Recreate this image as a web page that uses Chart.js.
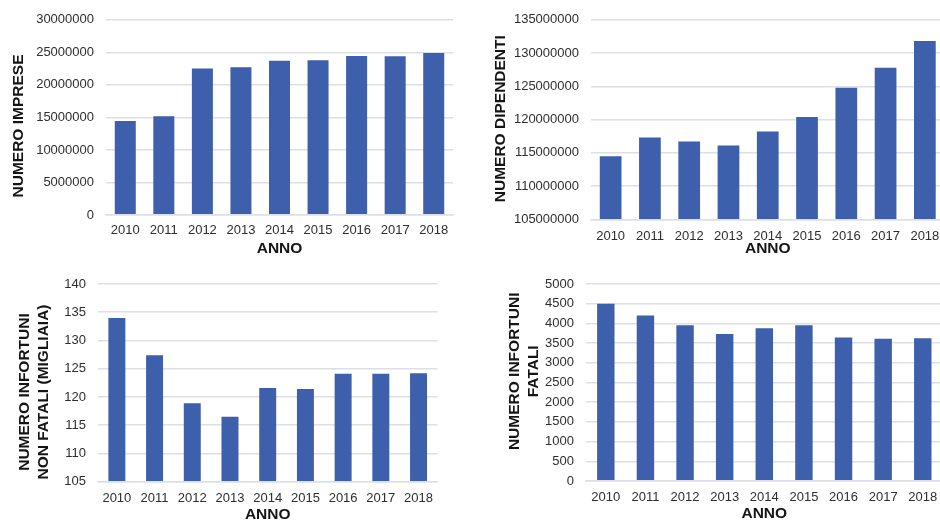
<!DOCTYPE html>
<html>
<head>
<meta charset="utf-8">
<script src="https://cdn.jsdelivr.net/npm/chart.js@4/dist/chart.umd.min.js"></script>
<style>
  html, body { margin: 0; padding: 0; background: #ffffff; }
  body { position: relative; width: 940px; height: 521px; overflow: hidden; }
  canvas { position: absolute; display: block; }
</style>
</head>
<body>
<canvas id="c1" width="470" height="260" style="left:0px;top:0px;"></canvas>
<canvas id="c2" width="480" height="260" style="left:470px;top:0px;"></canvas>
<canvas id="c3" width="470" height="265" style="left:0px;top:260px;"></canvas>
<canvas id="c4" width="480" height="265" style="left:470px;top:260px;"></canvas>
<script>
// ---- data ----
const years = ['2010', '2011', '2012', '2013', '2014', '2015', '2016', '2017', '2018'];
const impreseValues = [14460000, 15180000, 22510000, 22710000, 23690000, 23780000, 24450000, 24400000, 24910000];
const dipendentiValues = [114500000, 117300000, 116700000, 116100000, 118200000, 120400000, 124800000, 127800000, 131800000];
const nonFataliValues = [134.0, 127.4, 118.9, 116.5, 121.6, 121.4, 124.1, 124.1, 124.2];
const fataliValues = [4500, 4200, 3950, 3730, 3875, 3950, 3640, 3610, 3620];

const xTitle = 'ANNO';
const impreseTitle = ['NUMERO IMPRESE'];
const dipendentiTitle = ['NUMERO DIPENDENTI'];
const nonFataliTitle = ['NUMERO INFORTUNI', 'NON FATALI (MIGLIAIA)'];
const fataliTitle = ['NUMERO INFORTUNI', 'FATALI'];

const impreseTicks = { min: 0, max: 30000000, step: 5000000 };
const dipendentiTicks = { min: 105000000, max: 135000000, step: 5000000 };
const nonFataliTicks = { min: 105, max: 140, step: 5 };
const fataliTicks = { min: 0, max: 5000, step: 500 };

// ---- styles ----
const BAR = '#3d5fac';
const GRID = '#dcdfe6';
const TICK_COLOR = '#2e2e2e';
const TITLE_COLOR = '#141414';
const FAMILY = '"Liberation Sans", Arial, sans-serif';

const yTitlePlugin = {
  id: 'ytitle',
  afterDraw(chart, args, opts) {
    const ctx = chart.ctx;
    const lines = opts.lines || [];
    const lh = opts.lineHeight || 18.7;
    ctx.save();
    ctx.translate(opts.x, opts.y);
    ctx.rotate(-Math.PI / 2);
    ctx.font = 'bold 15.5px ' + FAMILY;
    ctx.fillStyle = TITLE_COLOR;
    ctx.textAlign = 'center';
    ctx.textBaseline = 'middle';
    const n = lines.length;
    lines.forEach((l, i) => ctx.fillText(l, 0, (i - (n - 1) / 2) * lh));
    ctx.restore();
  }
};

function makeChart(id, values, ticksDef, titleLines, lay) {
  const canvas = document.getElementById(id);
  const W = canvas.width, H = canvas.height;
  return new Chart(canvas, {
    type: 'bar',
    data: {
      labels: years,
      datasets: [{
        data: values,
        backgroundColor: BAR,
        borderWidth: 0,
        barPercentage: lay.bar,
        categoryPercentage: 1
      }]
    },
    options: {
      responsive: false,
      animation: false,
      devicePixelRatio: 1,
      layout: { padding: { left: 0, top: lay.plotT, right: W - lay.plotR, bottom: 0 } },
      plugins: {
        legend: { display: false },
        tooltip: { enabled: false },
        ytitle: { lines: titleLines, x: lay.titleX, y: lay.titleY, lineHeight: 18.7 }
      },
      scales: {
        x: {
          grid: { display: true, drawTicks: false, color: 'rgba(0,0,0,0)' },
          border: { display: true, color: GRID, width: 1.5, z: 1 },
          ticks: { color: TICK_COLOR, font: { family: FAMILY, size: 13 }, padding: lay.xPad, maxRotation: 0, autoSkip: false },
          title: { display: true, text: xTitle, color: TITLE_COLOR, font: { family: FAMILY, size: 15.5, weight: 'bold', lineHeight: 1.2 }, padding: { top: 0, bottom: lay.annoPad } },
          afterFit(scale) { scale.height = H - lay.plotB; }
        },
        y: {
          min: ticksDef.min,
          max: ticksDef.max,
          grid: { color: GRID, lineWidth: 1.5, drawTicks: false },
          border: { display: false },
          ticks: {
            stepSize: ticksDef.step,
            color: TICK_COLOR,
            font: { family: FAMILY, size: 13 },
            padding: 12,
            callback: (v) => String(v)
          },
          afterFit(scale) { scale.width = lay.plotL; }
        }
      }
    },
    plugins: [yTitlePlugin]
  });
}

makeChart('c1', impreseValues, impreseTicks, impreseTitle,
  { plotL: 106, plotR: 453, plotT: 19, plotB: 215, bar: 0.545, xPad: 8, annoPad: 2.4, titleX: 18.3, titleY: 126 });
makeChart('c2', dipendentiValues, dipendentiTicks, dipendentiTitle,
  { plotL: 121, plotR: 474.5, plotT: 19, plotB: 219.3, bar: 0.553, xPad: 9, annoPad: 2.4, titleX: 30.8, titleY: 118.7 });
makeChart('c3', nonFataliValues, nonFataliTicks, nonFataliTitle,
  { plotL: 98, plotR: 437.4, plotT: 24, plotB: 221.7, bar: 0.45, xPad: 9, annoPad: 1.4, titleX: 34.4, titleY: 132 });
makeChart('c4', fataliValues, fataliTicks, fataliTitle,
  { plotL: 116, plotR: 472.6, plotT: 24, plotB: 221, bar: 0.44, xPad: 9, annoPad: 1.7, titleX: 54.4, titleY: 111.3 });
</script>
</body>
</html>
